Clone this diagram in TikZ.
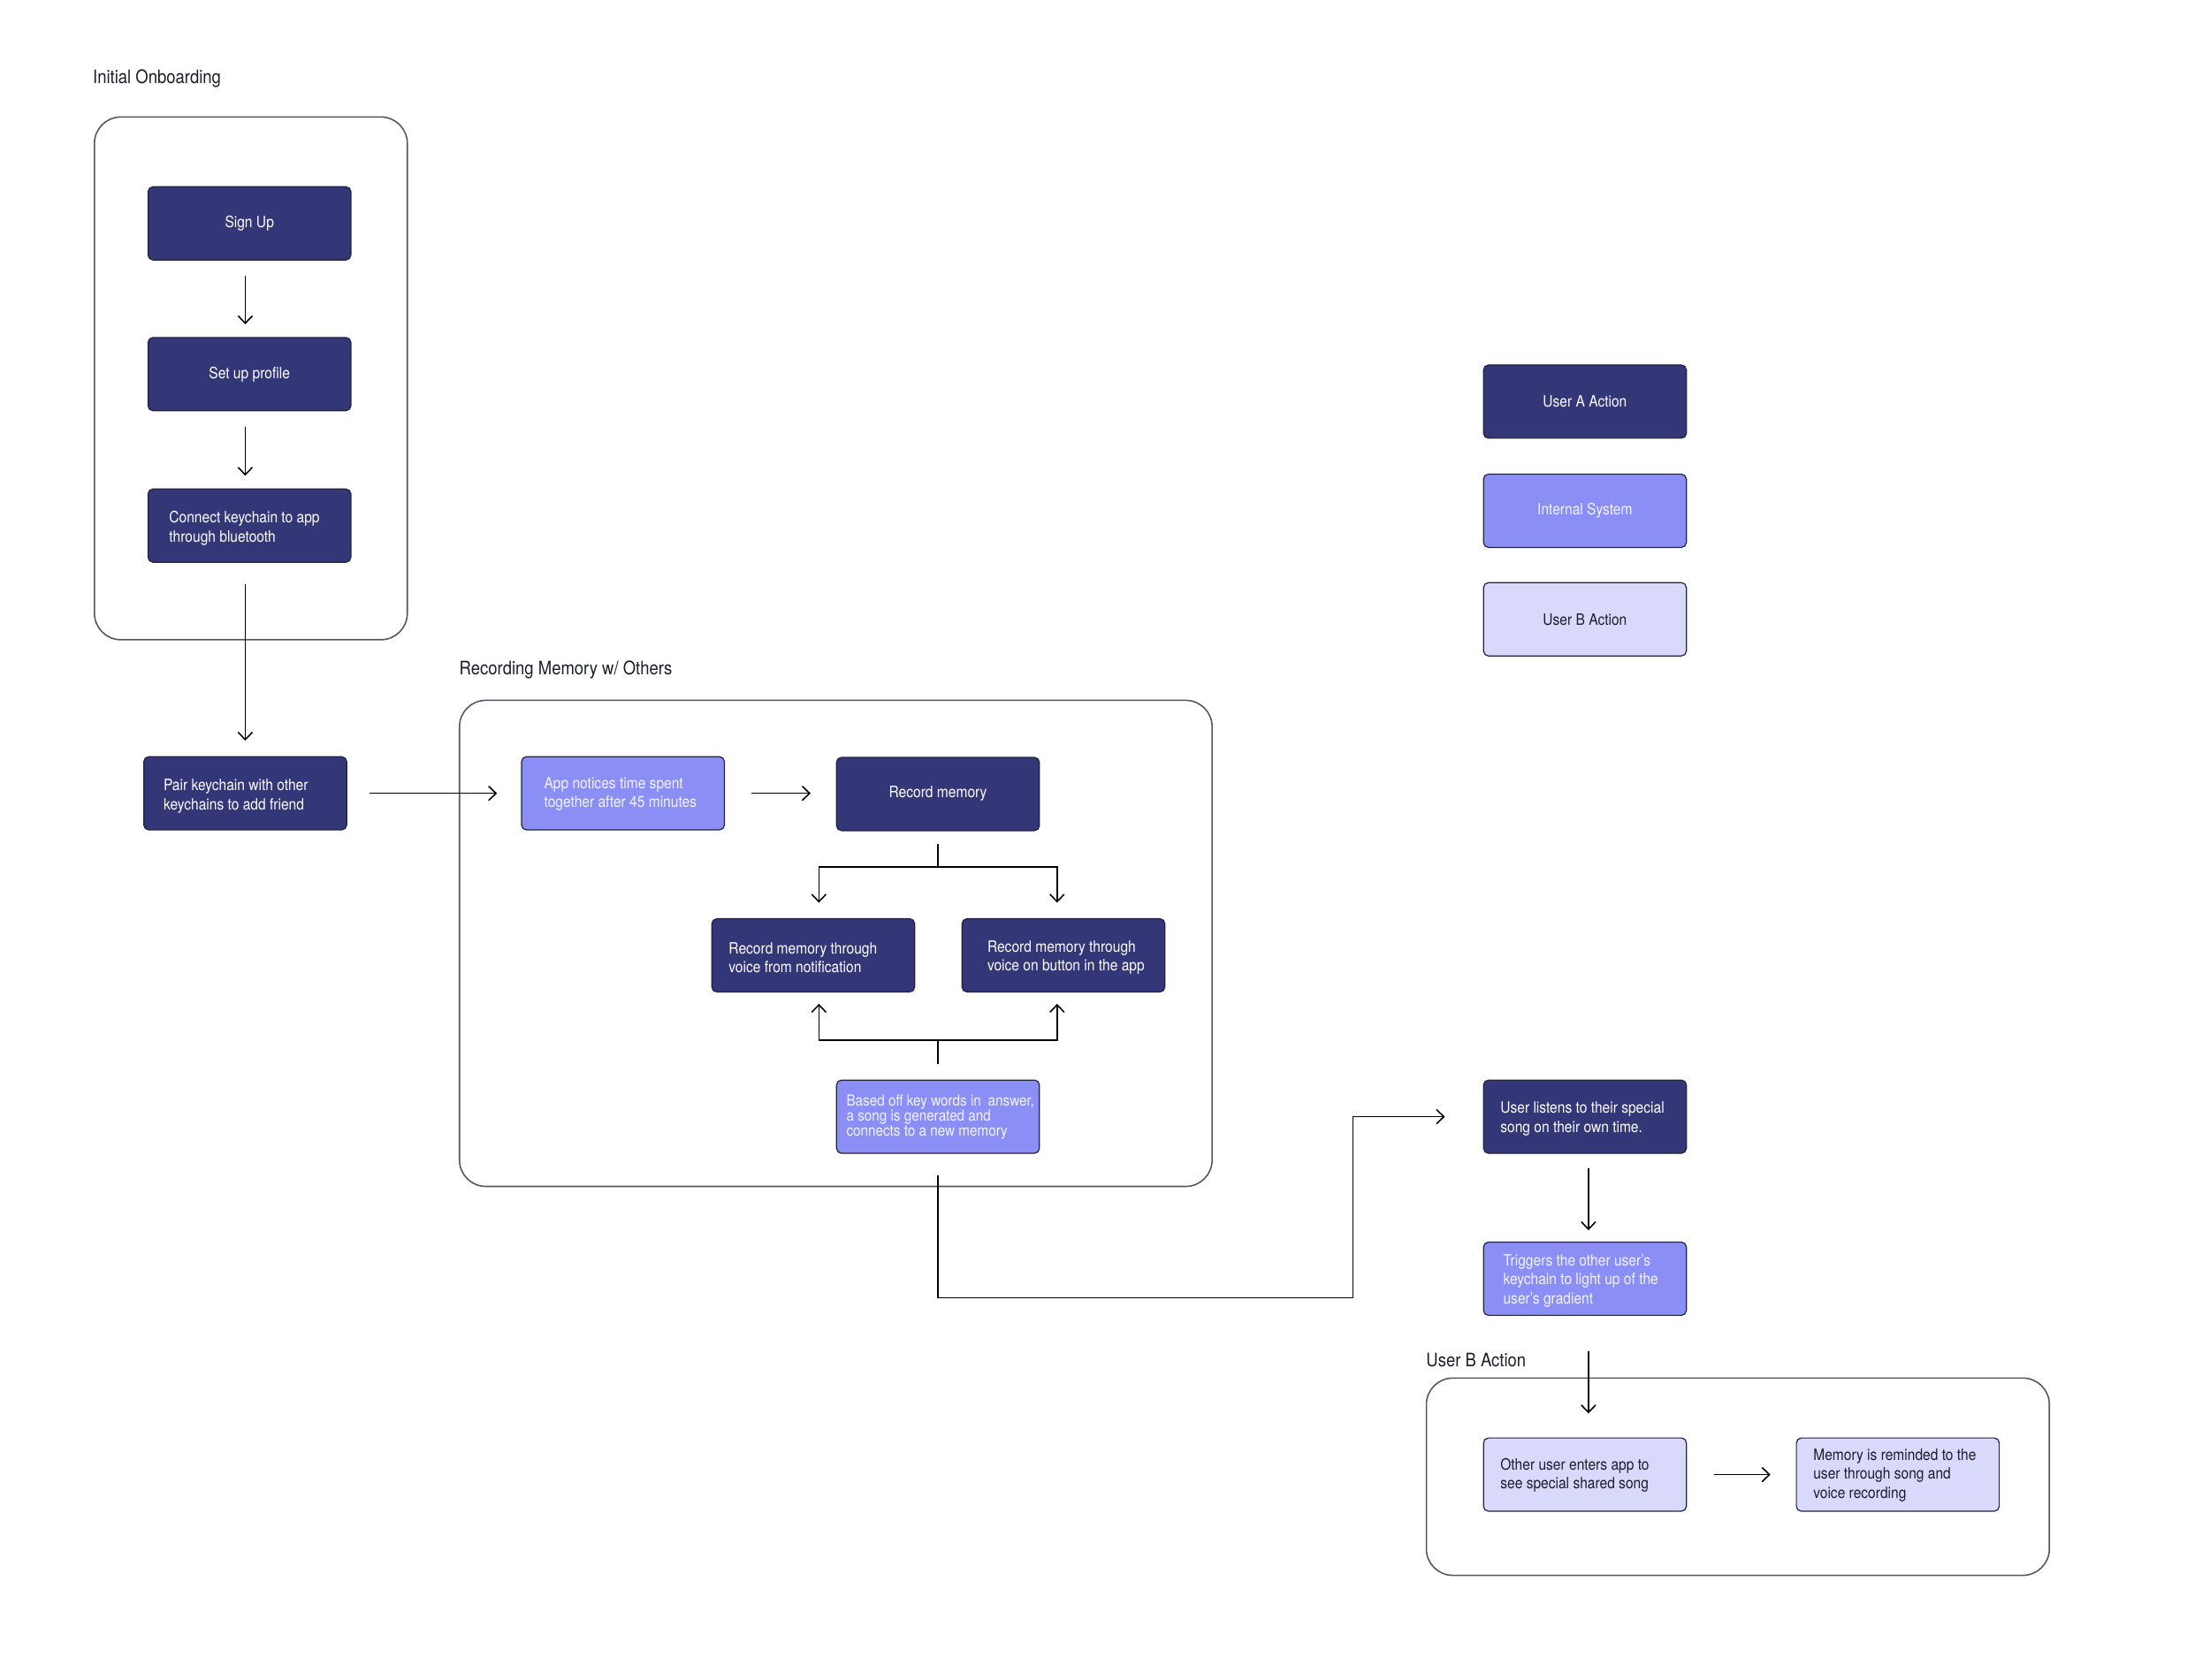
\documentclass[tikz,border=0pt]{standalone}
\usepackage{fontspec}
\setmainfont{TeX Gyre Heros}[FakeStretch=0.88]
\usetikzlibrary{arrows.meta,calc}
\definecolor{navy}{HTML}{333677}
\definecolor{syspurple}{HTML}{8A8EF5}
\definecolor{lav}{HTML}{D9DAFB}
\definecolor{boxline}{HTML}{23233F}
\definecolor{ink}{HTML}{1C1C2A}
\definecolor{systext}{HTML}{F4F4FF}
\definecolor{contline}{HTML}{55555F}
\begin{document}
\begin{tikzpicture}[x=0.016cm,y=-0.016cm,
  box/.style={draw=boxline, line width=0.35pt, rounded corners=1.6pt,
    minimum width=2.304cm, minimum height=0.832cm, inner sep=0pt,
    font=\fontsize{5.05}{6.1}\selectfont},
  ua/.style={box, fill=navy, text=white},
  sys/.style={box, fill=syspurple, text=systext},
  ub/.style={box, fill=lav, text=ink},
  lbl/.style={anchor=west, inner sep=0pt, align=left, font=\fontsize{5.05}{6.1}\selectfont},
  title/.style={anchor=west, inner sep=0pt, text=ink, font=\fontsize{6.0}{7}\selectfont},
  cont/.style={draw=contline, line width=0.45pt, rounded corners=0.3cm},
  ln/.style={draw=black, line width=0.45pt},
  arr/.style={ln, -{Straight Barb[length=2.4pt,width=4.6pt]}}
]
\useasboundingbox (0,0) rectangle (1568,1192);

% containers and titles
\draw[cont] (67,83) rectangle (289,454);
\draw[cont] (326,497) rectangle (860,842);
\draw[cont] (1012,978) rectangle (1454,1118);
\node[title] (t1) at (65.5,55.5) {Initial Onboarding};
\node[title] (t2) at (325.5,475.5) {Recording Memory w/ Others};
\node[title] (t3) at (1011.5,965.5) {User B Action};

% onboarding
\node[ua] (signup) at (177,158.5) {Sign Up};
\node[ua] (profile) at (177,265.5) {Set up profile};
\node[ua] (connect) at (177,373) {};
\node[lbl, text=white] (connect-t) at ($(connect.west)+(15,2)$) {Connect keychain to app\\through bluetooth};
\node[ua] (pair) at (174,563) {};
\node[lbl, text=white] (pair-t) at ($(pair.west)+(14,2)$) {Pair keychain with other\\keychains to add friend};

% recording memory
\node[sys] (app) at (442,563) {};
\node[lbl, text=systext] (app-t) at ($(app.west)+(16,0.5)$) {App notices time spent\\together after 45 minutes};
\node[ua] (rec) at (665.5,563.5) {Record memory};
\node[ua] (recN) at (577,678) {};
\node[lbl, text=white] (recN-t) at ($(recN.west)+(12,1.5)$) {Record memory through\\voice from notification};
\node[ua] (recB) at (754.5,678) {};
\node[lbl, text=white] (recB-t) at ($(recB.west)+(18,1.5)$) {Record memory through\\voice on button in the app};
\node[sys] (based) at (665.5,792.5) {};
\node[lbl, text=systext, font=\fontsize{4.95}{4.85}\selectfont] (based-t) at ($(based.west)+(7,0.5)$) {Based off key words in\hspace{0.45em}answer,\\a song is generated and\\connects to a new memory};

% user B side
\node[ua] (listen) at (1124.5,792.5) {};
\node[lbl, text=white] (listen-t) at ($(listen.west)+(12,1.5)$) {User listens to their special\\song on their own time.};
\node[sys] (trig) at (1124.5,907.5) {};
\node[lbl, text=systext] (trig-t) at ($(trig.west)+(14,1.5)$) {Triggers the other user's\\keychain to light up of the\\user's gradient};
\node[ub] (other) at (1124.5,1046.5) {};
\node[lbl, text=ink] (other-t) at ($(other.west)+(12,0.5)$) {Other user enters app to\\see special shared song};
\node[ub] (memo) at (1346.5,1046.5) {};
\node[lbl, text=ink] (memo-t) at ($(memo.west)+(12,0.5)$) {Memory is reminded to the\\user through song and\\voice recording};

% legend
\node[ua] (leg1) at (1124.5,285) {User A Action};
\node[sys] (leg2) at (1124.5,362.5) {Internal System};
\node[ub] (leg3) at (1124.5,439.5) {User B Action};

% connectors
\draw[arr] ($(signup.south)+(-3,11)$) -- ($(profile.north)+(-3,-9)$);
\draw[arr] ($(profile.south)+(-3,11)$) -- ($(connect.north)+(-3,-9)$);
\draw[arr] ($(connect.south)+(-3,15)$) -- ($(pair.north)+(0,-11)$);
\draw[arr] ($(pair.east)+(16,0)$) -- ($(app.west)+(-17,0)$);
\draw[arr] ($(app.east)+(19,0)$) -- ($(rec.west)+(-18,-0.5)$);

\coordinate (sp1) at ($(rec.south)+(0,25.5)$);
\draw[ln] ($(rec.south)+(0,9)$) -- (sp1);
\draw[arr] (sp1) -| ($(recN.north)+(4,-11)$);
\draw[arr] (sp1) -| ($(recB.north)+(-4.5,-11)$);

\coordinate (sp2) at ($(based.north)+(0,-28)$);
\draw[ln] ($(based.north)+(0,-11)$) -- (sp2);
\draw[arr] (sp2) -| ($(recN.south)+(4,8)$);
\draw[arr] (sp2) -| ($(recB.south)+(-4.5,8)$);

\coordinate (turn) at (960,921);
\draw[arr] ($(based.south)+(0,15)$) |- (turn) |- ($(listen.west)+(-27,0)$);

\draw[arr] ($(listen.south)+(2.5,10)$) -- ($(trig.north)+(2.5,-8)$);
\draw[arr] ($(trig.south)+(2.5,25)$) -- ($(other.north)+(2.5,-17)$);
\draw[arr] ($(other.east)+(19,0)$) -- ($(memo.west)+(-18,0)$);
\end{tikzpicture}
\end{document}
